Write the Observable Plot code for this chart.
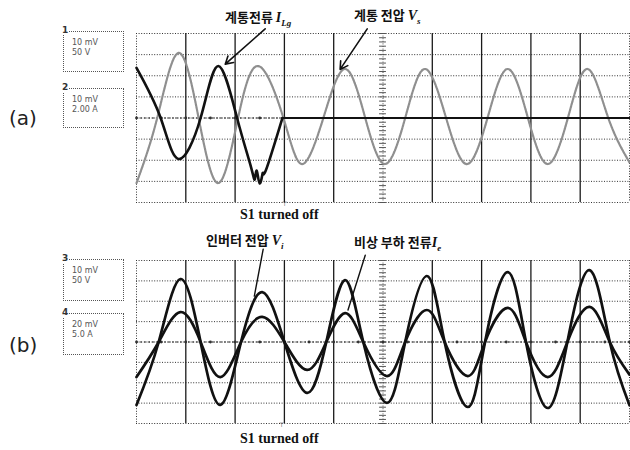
<!DOCTYPE html>
<html>
<head>
<meta charset="utf-8">
<script src="https://cdn.jsdelivr.net/npm/d3@7"></script>
<script src="https://cdn.jsdelivr.net/npm/@observablehq/plot@0.6"></script>
<style>
  html, body { margin: 0; padding: 0; background: #fff; }
  #wrap { position: relative; width: 630px; height: 450px; background: #fff; overflow: hidden; }
  .panel { position: absolute; left: 0; }
  .lbl { position: absolute; white-space: nowrap; color: #111; }
  .kr { font-family: "Noto Sans CJK KR", "Noto Sans", sans-serif; font-weight: 700; font-size: 13px; line-height: 1; }
  .kr i { font-family: "Liberation Serif", serif; font-size: 14px; }
  .kr sub { font-family: "Liberation Serif", serif; font-style: italic; font-size: 9px; }
  .off { font-family: "Liberation Serif", serif; font-weight: 700; font-size: 14px; line-height: 1; }
  .pl { font-family: "DejaVu Sans", sans-serif; font-size: 20px; font-weight: normal; color: #222; line-height: 1; }
  .box { position: absolute; border: 1px dotted #555; box-sizing: border-box; width: 61px;
         font-family: "DejaVu Sans", sans-serif; font-size: 8px; color: #555; line-height: 10px; padding: 6px 0 0 8px; }
  .box b { position: absolute; left: -2px; top: -7px; font-size: 9px; color: #333; font-weight: 700; background: #fff; }
</style>
</head>
<body>
<div id="wrap"></div>
<script>
// ---- grid divisions (oscilloscope screen: 10 x 8 divisions)
const xDivisions = [0, 1, 2, 3, 4, 5, 6, 7, 8, 9, 10];
const yDivisions = [-4, -3, -2, -1, 0, 1, 2, 3, 4];

// ---- (a) grid voltage Vs (gray trace), time in divisions, amplitude in divisions
const vsT = [0, 0.42, 0.85, 1.26, 1.66, 2.06, 2.47, 2.98, 3.36, 3.79, 4.23, 4.64, 5.04, 5.45, 5.85, 6.28, 6.70, 7.12, 7.53, 7.94, 8.34, 8.75, 9.15, 9.57, 10.0];
const vsV = [-3.08, 0, 3.08, 0, -3.08, 0, 2.46, 0, -2.18, 0, 2.32, 0, -2.18, 0, 2.32, 0, -2.18, 0, 2.32, 0, -2.18, 0, 2.32, 0, -2.1];

// ---- (a) grid current ILg (thick black trace), goes to zero when S1 turns off
const iLgT = [0, 0.49, 0.85, 1.30, 1.66, 2.04, 2.32, 2.40, 2.44, 2.50, 2.56, 2.62, 2.96];
const iLgV = [2.37, 0, -1.94, 0, 2.46, 0, -2.3, -2.9, -2.5, -3.1, -2.6, -2.5, 0];
const iLgOffT = [2.96, 10];
const iLgOffV = [0, 0];

// ---- (b) inverter voltage Vi (large trace) and emergency load current Ie (small trace)
const vInvT = [0, 0.45, 0.89, 1.30, 1.70, 2.12, 2.55, 3.00, 3.46, 3.85, 4.23, 4.60, 5.08, 5.45, 5.89, 6.25, 6.72, 7.07, 7.53, 7.90, 8.34, 8.74, 9.19, 9.60, 10.0];
const vInvV = [-3.09, 0, 3.09, 0, -3.09, 0, 2.45, 0, -2.5, 0, 3.04, 0, -2.99, 0, 3.24, 0, -3.19, 0, 3.43, 0, -3.24, 0, 3.53, 0, -3.1];
const ieT = vInvT;
const ieV = [-1.72, 0, 1.47, 0, -1.72, 0, 1.23, 0, -1.37, 0, 1.42, 0, -1.67, 0, 1.57, 0, -1.67, 0, 1.67, 0, -1.72, 0, 1.72, 0, -1.6];

const toRows = (t, v) => t.map((x, i) => ({x, y: v[i]}));
const centerTicks = d3.range(-4, 4.001, 0.2);
const centerDots = d3.range(0, 10.001, 0.5);

function screen({height, marginTop, marginBottom, traces, centerDotsTo}) {
  const solidX = xDivisions.filter(d => d !== 0 && d !== 5 && d !== 10);
  return Plot.plot({
    width: 630, height, marginLeft: 136, marginRight: 1, marginTop, marginBottom,
    x: {domain: [0, 10], axis: null},
    y: {domain: [-4, 4], axis: null},
    style: {background: "transparent", overflow: "visible"},
    marks: [
      Plot.ruleY(yDivisions, {stroke: "#333", strokeWidth: 1, strokeDasharray: "1,1.6"}),
      Plot.ruleX([0, 10], {stroke: "#333", strokeWidth: 1, strokeDasharray: "1,1.6"}),
      Plot.ruleX(solidX, {stroke: "#1a1a1a", strokeWidth: 1.3}),
      Plot.ruleX([5], {stroke: "#555", strokeWidth: 1, strokeDasharray: "1,1.6"}),
      Plot.ruleY(centerTicks, {y: d => d, x1: 4.93, x2: 5.07, stroke: "#555", strokeWidth: 1}),
      Plot.dot(centerDots.filter(d => d <= centerDotsTo), {x: d => d, y: 0, r: 1.4, fill: "#333"}),
      Plot.ruleY([0], {x1: 0, x2: centerDotsTo, stroke: "#333", strokeWidth: 1.2, strokeDasharray: "2,2"}),
      ...traces
    ]
  });
}

const wrap = document.getElementById("wrap");

// panel (a)
const plotA = screen({
  height: 225, marginTop: 33, marginBottom: 23, centerDotsTo: 3,
  traces: [
    Plot.line(toRows(vsT, vsV), {x: "x", y: "y", curve: "natural", stroke: "#8f8f8f", strokeWidth: 2.2, strokeDasharray: "1.8,1"}),
    Plot.line(toRows(iLgT, iLgV), {x: "x", y: "y", curve: "natural", stroke: "#111", strokeWidth: 2.6}),
    Plot.line(toRows(iLgOffT, iLgOffV), {x: "x", y: "y", stroke: "#111", strokeWidth: 2.2}),
    Plot.arrow([{x1: 2.61, y1: 4.22, x2: 1.80, y2: 2.55}], {x1: "x1", y1: "y1", x2: "x2", y2: "y2", stroke: "#111", strokeWidth: 1.6, headLength: 8}),
    Plot.arrow([{x1: 4.68, y1: 4.22, x2: 4.13, y2: 2.30}], {x1: "x1", y1: "y1", x2: "x2", y2: "y2", stroke: "#111", strokeWidth: 1.6, headLength: 8}),
    Plot.text(["⊤"], {x: 3, y: -4, dy: 2, fontSize: 6, fill: "#333"})
  ]
});
const dA = document.createElement("div"); dA.className = "panel"; dA.style.top = "0px"; dA.appendChild(plotA); wrap.appendChild(dA);

// panel (b)
const plotB = screen({
  height: 225, marginTop: 35, marginBottom: 27, centerDotsTo: 10,
  traces: [
    Plot.line(toRows(vInvT, vInvV), {x: "x", y: "y", curve: "natural", stroke: "#111", strokeWidth: 2.7}),
    Plot.line(toRows(ieT, ieV), {x: "x", y: "y", curve: "natural", stroke: "#111", strokeWidth: 2.7}),
    Plot.arrow([{x1: 2.57, y1: 4.56, x2: 2.39, y2: 2.25}], {x1: "x1", y1: "y1", x2: "x2", y2: "y2", stroke: "#111", strokeWidth: 1.4, headLength: 0}),
    Plot.arrow([{x1: 4.64, y1: 4.26, x2: 4.29, y2: 1.57}], {x1: "x1", y1: "y1", x2: "x2", y2: "y2", stroke: "#111", strokeWidth: 1.4, headLength: 0}),
    Plot.text(["⊤"], {x: 2.95, y: -4, dy: 2, fontSize: 6, fill: "#333"})
  ]
});
const dB = document.createElement("div"); dB.className = "panel"; dB.style.top = "225px"; dB.appendChild(plotB); wrap.appendChild(dB);

// text overlays
const labels = [
  {cls: "lbl kr", left: 225, top: 10, html: "계통전류 <i>I</i><sub>Lg</sub>"},
  {cls: "lbl kr", left: 354, top: 8, html: "계통 전압 <i>V</i><sub>s</sub>"},
  {cls: "lbl off", left: 240, top: 208, html: "S1 turned off"},
  {cls: "lbl kr", left: 206, top: 233, html: "인버터 전압 <i>V</i><sub>i</sub>"},
  {cls: "lbl kr", left: 354, top: 235, html: "비상 부하 전류<i>I</i><sub>e</sub>"},
  {cls: "lbl off", left: 240, top: 432, html: "S1 turned off"},
  {cls: "lbl pl", left: 9, top: 108, html: "(a)"},
  {cls: "lbl pl", left: 9, top: 335, html: "(b)"}
];
for (const l of labels) {
  const e = document.createElement("div");
  e.className = l.cls; e.style.left = l.left + "px"; e.style.top = l.top + "px"; e.innerHTML = l.html;
  wrap.appendChild(e);
}
const boxes = [
  {n: "1", top: 31, h: 41, lines: ["10 mV", "50 V"]},
  {n: "2", top: 88, h: 40, lines: ["10 mV", "2.00 A"]},
  {n: "3", top: 259, h: 42, lines: ["10 mV", "50 V"]},
  {n: "4", top: 313, h: 42, lines: ["20 mV", "5.0 A"]}
];
for (const b of boxes) {
  const e = document.createElement("div");
  e.className = "box"; e.style.left = "63px"; e.style.top = b.top + "px"; e.style.height = b.h + "px";
  e.innerHTML = `<b>${b.n}</b>${b.lines.join("<br>")}`;
  wrap.appendChild(e);
}
</script>
</body>
</html>
